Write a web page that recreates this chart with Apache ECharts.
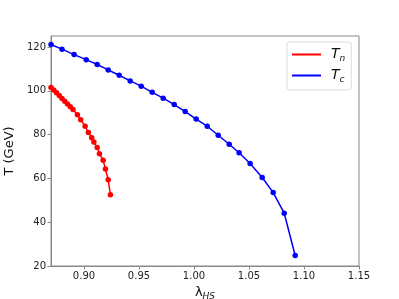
<!DOCTYPE html>
<html>
<head>
<meta charset="utf-8">
<script src="https://cdn.jsdelivr.net/npm/echarts@6/dist/echarts.min.js"></script>
<style>
  html, body { margin: 0; padding: 0; background: #fff; }
  #chart { width: 399px; height: 299px; }
</style>
</head>
<body>
<div id="chart"></div>
<script>
// values
const tnLambda = [0.870, 0.8725, 0.875, 0.8775, 0.880, 0.8825, 0.885, 0.8875, 0.890, 0.894, 0.897,
  0.901, 0.904, 0.907, 0.909, 0.912, 0.914, 0.9174, 0.9195, 0.922, 0.924];
const tnValues = [101.5, 100.3, 99.1, 97.8, 96.5, 95.2, 94.0, 92.7, 91.4, 89.1, 86.8,
  83.8, 81.0, 78.6, 76.6, 74.1, 71.3, 68.3, 64.3, 59.4, 52.5];

const tcLambda = [0.870, 0.880, 0.891, 0.902, 0.912, 0.922, 0.932, 0.942, 0.952, 0.962, 0.972,
  0.982, 0.992, 1.002, 1.012, 1.022, 1.032, 1.041, 1.051, 1.062, 1.072, 1.082, 1.092];
const tcValues = [121.1, 119.0, 116.5, 114.2, 112.0, 109.5, 107.1, 104.5, 102.1, 99.3, 96.6,
  93.7, 90.5, 87.1, 83.8, 79.7, 75.6, 71.7, 66.8, 60.4, 53.5, 44.1, 24.8];

const xTicks = [0.90, 0.95, 1.00, 1.05, 1.10, 1.15];
const yTicks = [20, 40, 60, 80, 100, 120];

const pairs = (xs, ys) => xs.map((x, i) => [x, ys[i]]);

const font = 'DejaVu Sans';
const chart = echarts.init(document.getElementById('chart'));

chart.setOption({
  backgroundColor: '#fff',
  animation: false,
  grid: {
    left: 51,
    right: 40,
    top: 36,
    bottom: 33,
    outerBoundsMode: 'none',
    show: true,
    borderColor: '#888',
    borderWidth: 1
  },
  legend: {
    orient: 'vertical',
    left: 287,
    top: 42,
    padding: [4, 6, 6, 5],
    itemGap: 4,
    itemWidth: 29,
    itemHeight: 2,
    icon: 'rect',
    borderColor: '#ddd',
    borderWidth: 1,
    borderRadius: 3,
    formatter: name => name === 'Tn' ? '{m|T}{s|n}' : '{m|T}{s|c}',
    textStyle: {
      padding: [0, 0, 0, 5],
      rich: {
        m: { fontFamily: font, fontStyle: 'italic', fontSize: 14, color: '#111', lineHeight: 16 },
        s: { fontFamily: font, fontStyle: 'italic', fontSize: 9, color: '#111', padding: [8, 0, 0, 0], lineHeight: 16 }
      }
    },
    data: ['Tn', 'Tc']
  },
  xAxis: {
    type: 'value',
    min: 0.87,
    max: 1.15,
    name: '{m|λ}{s|HS}',
    nameLocation: 'middle',
    nameGap: 17,
    nameTextStyle: {
      rich: {
        m: { fontFamily: font, fontSize: 13, color: '#111' },
        s: { fontFamily: font, fontStyle: 'italic', fontSize: 9, color: '#111', padding: [8, 0, 0, 0] }
      }
    },
    splitLine: { show: false },
    axisLine: { lineStyle: { color: '#888' } },
    axisTick: { show: true, length: 3.5, lineStyle: { color: '#888' }, customValues: xTicks },
    axisLabel: {
      fontFamily: font, fontSize: 10, color: '#222', margin: 5,
      customValues: xTicks,
      formatter: v => v.toFixed(2)
    }
  },
  yAxis: {
    type: 'value',
    min: 20,
    max: 125,
    name: 'T (GeV)',
    nameLocation: 'middle',
    nameGap: 26,
    nameTextStyle: { fontFamily: font, fontSize: 13, color: '#111' },
    splitLine: { show: false },
    axisLine: { show: true, lineStyle: { color: '#888' } },
    axisTick: { show: true, length: 3.5, lineStyle: { color: '#888' }, customValues: yTicks },
    axisLabel: {
      fontFamily: font, fontSize: 10, color: '#222', margin: 5,
      customValues: yTicks
    }
  },
  series: [
    {
      name: 'Tn',
      type: 'line',
      data: pairs(tnLambda, tnValues),
      symbol: 'circle',
      symbolSize: 5.5,
      itemStyle: { color: '#ff0000' },
      lineStyle: { color: '#ff0000', width: 1.5 }
    },
    {
      name: 'Tc',
      type: 'line',
      data: pairs(tcLambda, tcValues),
      symbol: 'circle',
      symbolSize: 5.5,
      itemStyle: { color: '#0000ff' },
      lineStyle: { color: '#0000ff', width: 1.5 }
    }
  ]
});
</script>
</body>
</html>
